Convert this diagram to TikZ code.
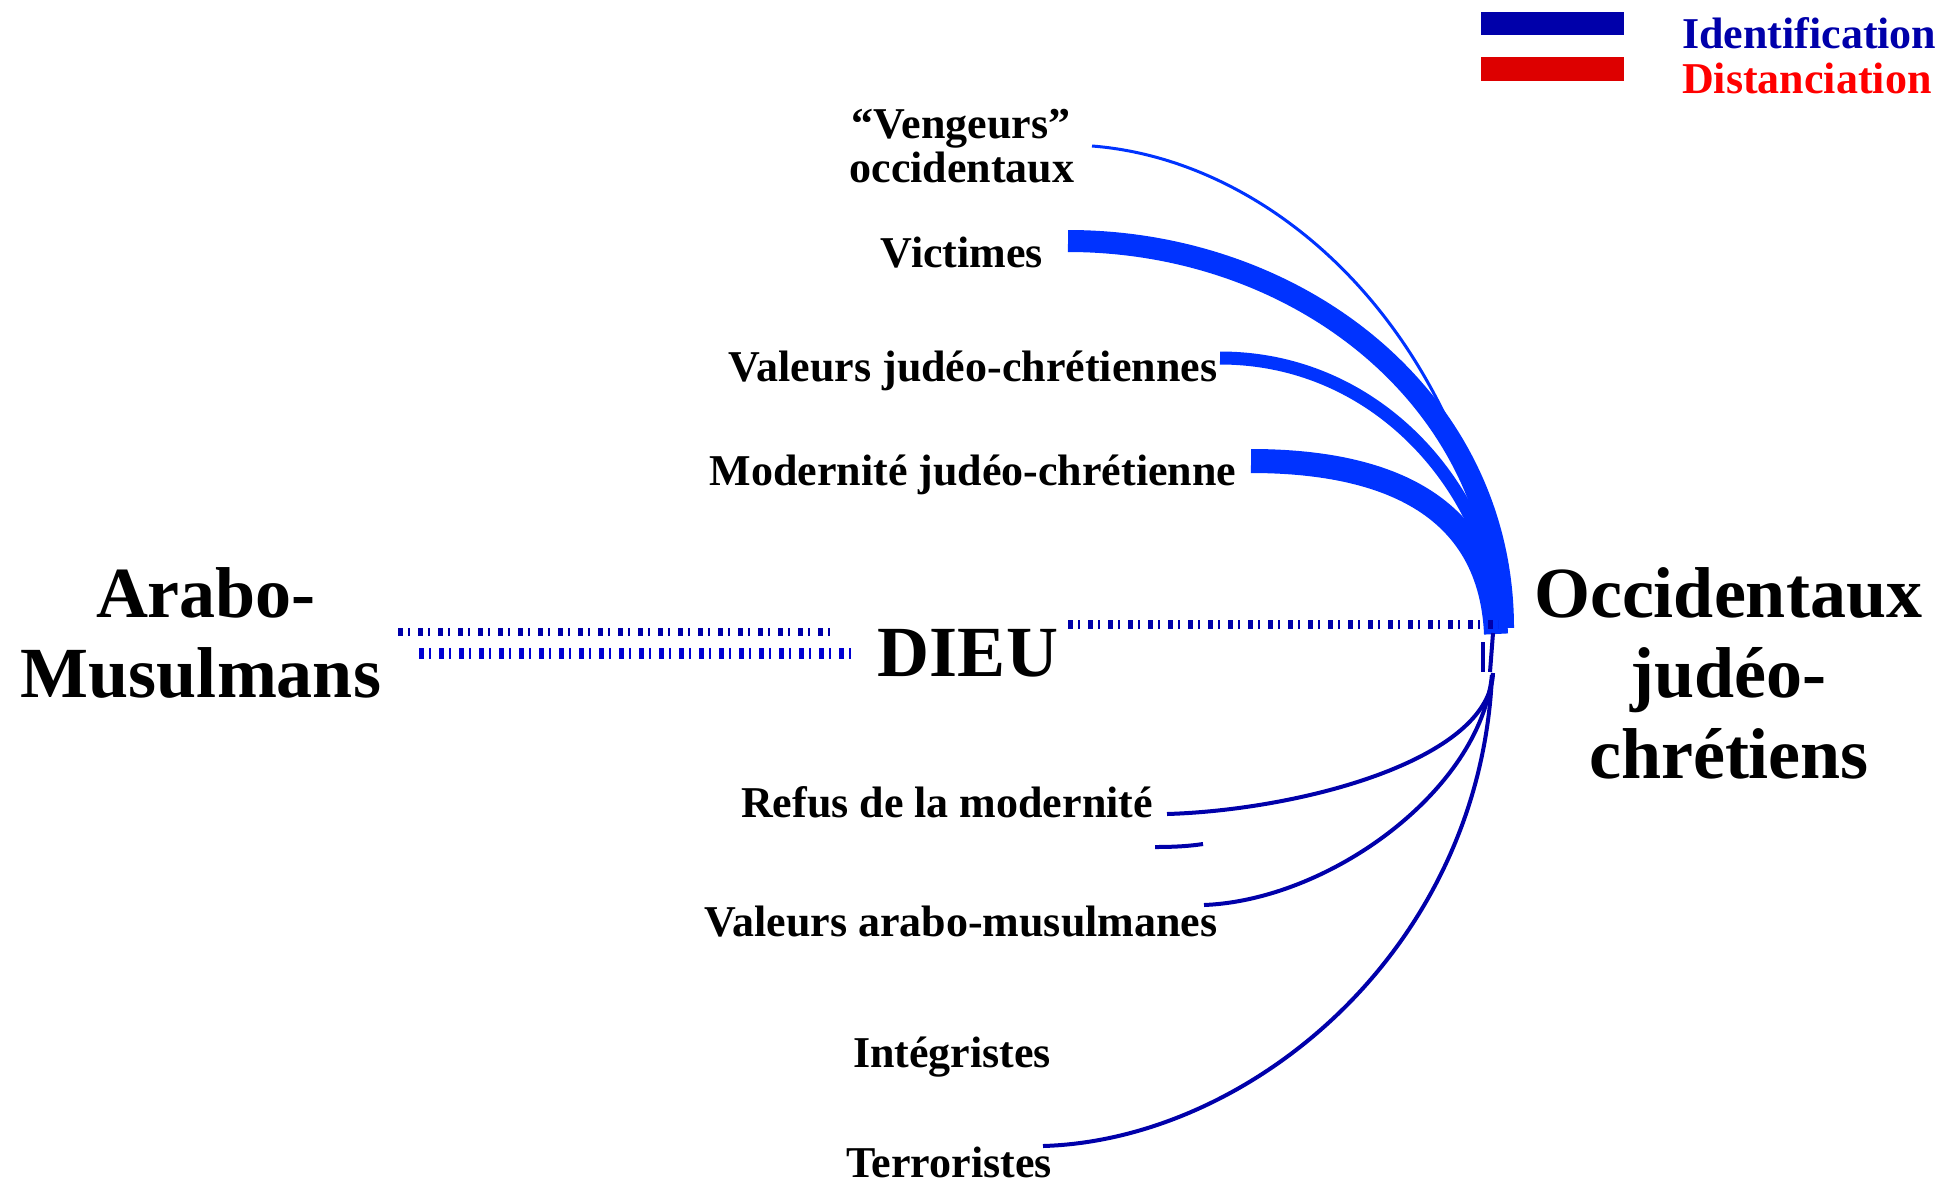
\documentclass[tikz,border=0pt]{standalone}
\usepackage{fontspec}
\setmainfont{Liberation Serif}
\definecolor{brightblue}{RGB}{0,51,255}
\definecolor{darkblue}{RGB}{0,0,170}
\definecolor{midblue}{RGB}{0,0,210}
\definecolor{legred}{RGB}{221,0,0}
\definecolor{textred}{RGB}{255,0,0}
\begin{document}
\begin{tikzpicture}[x=1pt,y=-1pt,
  big/.style={font=\bfseries\fontsize{72}{80}\selectfont, anchor=base, inner sep=0pt},
  small/.style={font=\bfseries\fontsize{44}{44}\selectfont, anchor=base, inner sep=0pt},
  idline/.style={brightblue, line cap=butt},
  thinline/.style={darkblue, line width=4pt},
  dashline/.style={dash pattern=on 5pt off 5pt on 2pt off 8pt, line cap=butt}
]
\useasboundingbox (0,0) rectangle (1942,1184);

% legend
\fill[darkblue] (1481,12) rectangle (1624,35);
\fill[legred] (1481,57) rectangle (1624,81);
\node[small, anchor=base west, text=darkblue] (legid) at (1682,48) {Identification};
\node[small, anchor=base west, text=textred] (legdist) at (1682,93) {Distanciation};

% big labels
\node[big] (arabo1) at (206,617) {Arabo-};
\node[big] (arabo2) at (201,697) {Musulmans};
\node[big] (dieu) at (968,676) {DIEU};
\node[big] (occ1) at (1728,617) {Occidentaux};
\node[big] (occ2) at (1728,697) {judéo-};
\node[big] (occ3) at (1729,778) {chrétiens};

% small labels
\node[small] (veng1) at (961,138.5) {“Vengeurs”};
\node[small] (veng2) at (962,182.5) {occidentaux};
\node[small] (vict) at (962,267.5) {Victimes};
\node[small] (valjc) at (973,381.5) {Valeurs judéo-chrétiennes};
\node[small] (modjc) at (973,485.5) {Modernité judéo-chrétienne};
\node[small] (refus) at (947,817.5) {Refus de la modernité};
\node[small] (valam) at (961,936.5) {Valeurs arabo-musulmanes};
\node[small] (integ) at (952,1067.5) {Intégristes};
\node[small] (terro) at (949,1177) {Terroristes};

% connector end points
\coordinate (veng-s) at (1092,146);
\coordinate (veng-e) at (1505,628);
\coordinate (vict-s) at (1068,241);
\coordinate (vict-e) at (1503,628);
\coordinate (valjc-s) at (1220,358);
\coordinate (valjc-e) at (1500,628);
\coordinate (modjc-s) at (1251,461);
\coordinate (modjc-e) at (1496,634);

\coordinate (refus-s) at (1167,814);
\coordinate (refus-e) at (1493,673);
\coordinate (extra-s) at (1155,847);
\coordinate (extra-e) at (1203,844);
\coordinate (valam-s) at (1204,905);
\coordinate (valam-e) at (1492,675);
\coordinate (terro-s) at (1043,1146);
\coordinate (terro-e) at (1492,675);
\coordinate (tick1-a) at (1483,642);
\coordinate (tick1-b) at (1483,672);
\coordinate (tick2-a) at (1493,633);
\coordinate (tick2-b) at (1490,672);

\coordinate (dl1-s) at (398,632);
\coordinate (dl1-e) at (837,632);
\coordinate (dl2-s) at (419,653);
\coordinate (dl2-e) at (851,653);
\coordinate (dr-s) at (1068,624);
\coordinate (dr-e) at (1498,624);

% identification curves (upper)
\draw[idline, line width=3pt] (veng-s) .. controls (1274,160) and (1470,330) .. (veng-e);
\draw[idline, line width=22pt] (vict-s) .. controls (1300,241) and (1503,400) .. (vict-e);
\draw[idline, line width=13pt] (valjc-s) .. controls (1385,358) and (1495,500) .. (valjc-e);
\draw[idline, line width=24pt] (modjc-s) .. controls (1368,461) and (1490,494) .. (modjc-e);

% lower curves
\draw[thinline] (refus-s) .. controls (1300,810) and (1490,760) .. (refus-e);
\draw[thinline] (extra-s) .. controls (1175,847) and (1190,846) .. (extra-e);
\draw[thinline] (valam-s) .. controls (1330,900) and (1480,790) .. (valam-e);
\draw[thinline] (terro-s) .. controls (1250,1140) and (1480,950) .. (terro-e);
\draw[thinline] (tick1-a) -- (tick1-b);
\draw[thinline] (tick2-a) -- (tick2-b);

% dashed links
\draw[darkblue, line width=8pt, dashline] (dl1-s) -- (dl1-e);
\draw[midblue, line width=11pt, dashline] (dl2-s) -- (dl2-e);
\draw[darkblue, line width=9pt, dashline] (dr-s) -- (dr-e);
\end{tikzpicture}
\end{document}
